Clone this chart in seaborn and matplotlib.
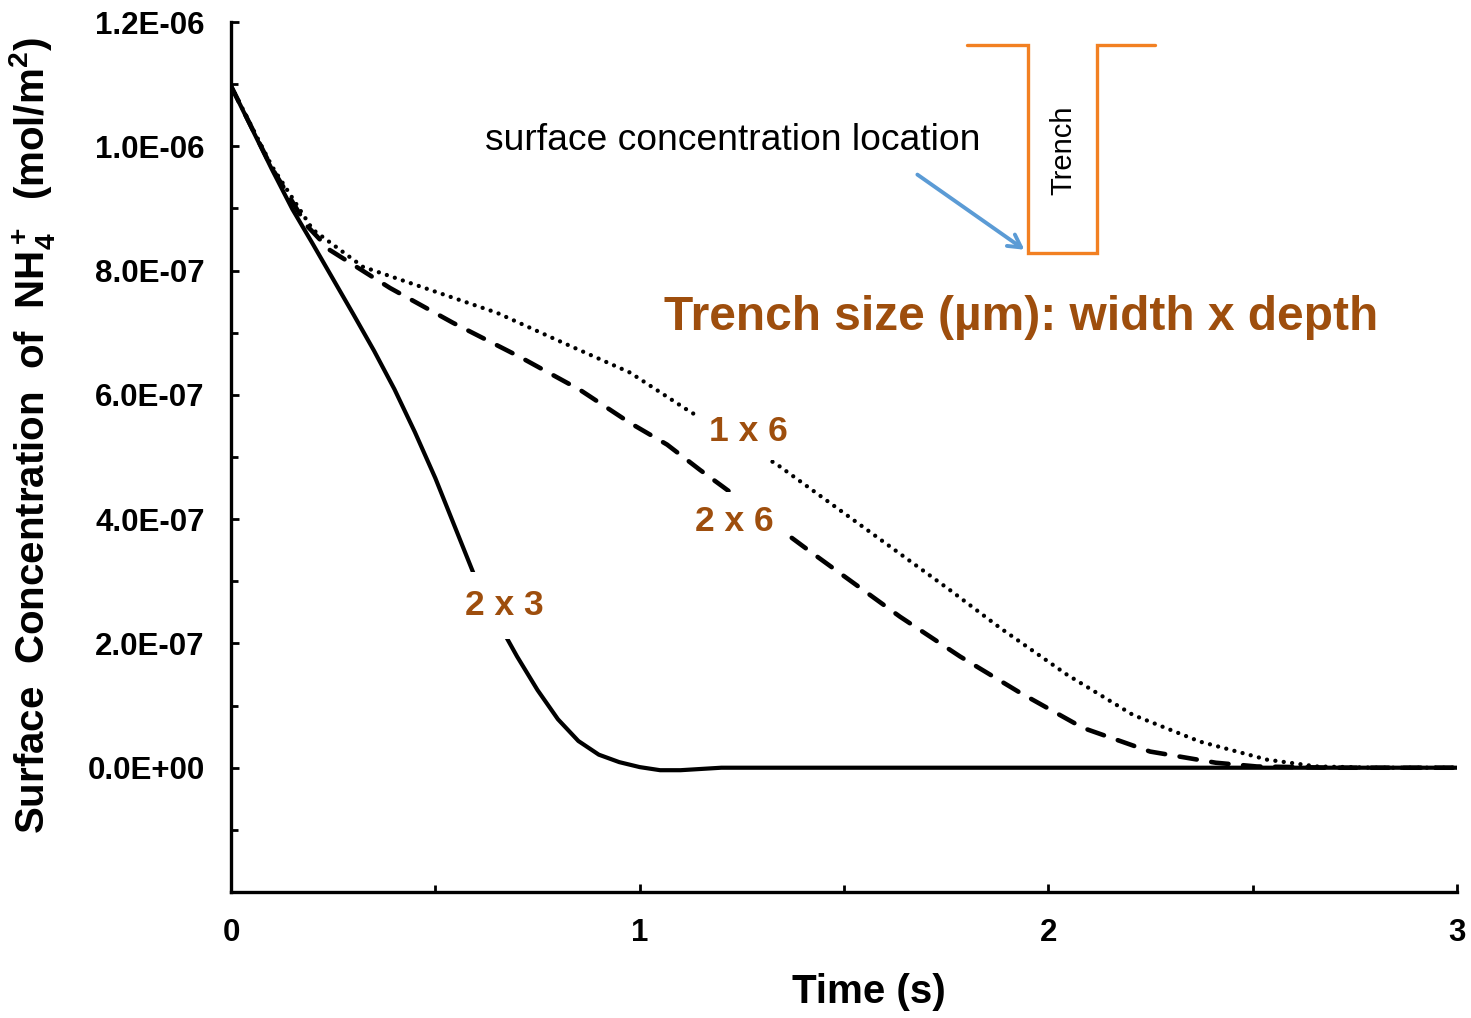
import numpy as np
import pandas as pd
import matplotlib
matplotlib.use("Agg")
import matplotlib.pyplot as plt
from matplotlib.ticker import MultipleLocator, FuncFormatter
import seaborn as sns

# ---------------- data ----------------
t_2x3 = [0.0, 0.05, 0.10, 0.15, 0.20, 0.25, 0.30, 0.35, 0.40, 0.45, 0.50, 0.55,
         0.60, 0.65, 0.70, 0.75, 0.80, 0.85, 0.90, 0.95, 1.00, 1.05, 1.10, 1.15,
         1.20, 1.50, 2.00, 2.50, 3.00]
c_2x3 = [10.97, 10.30, 9.63, 8.99, 8.43, 7.86, 7.29, 6.71, 6.09, 5.40, 4.66, 3.84,
         3.02, 2.38, 1.79, 1.25, 0.78, 0.43, 0.21, 0.09, 0.01, -0.04, -0.04, -0.02,
         0.0, 0.0, 0.0, 0.0, 0.0]

t_2x6 = [0.0, 0.10, 0.186, 0.242, 0.389, 0.543, 0.707, 0.854, 0.976, 1.067, 1.148,
         1.204, 1.417, 1.637, 1.784, 1.93, 2.085, 2.249, 2.41, 2.51, 2.70, 3.0]
c_2x6 = [10.97, 9.65, 8.72, 8.33, 7.72, 7.16, 6.61, 6.08, 5.55, 5.20, 4.79,
         4.52, 3.48, 2.43, 1.79, 1.21, 0.64, 0.26, 0.08, 0.02, 0.0, 0.0]

t_1x6 = [0.0, 0.10, 0.20, 0.323, 0.487, 0.651, 0.812, 0.976, 1.116, 1.336, 1.556,
         1.759, 1.882, 2.045, 2.207, 2.371, 2.535, 2.657, 2.80, 3.0]
c_1x6 = [10.97, 9.68, 8.66, 8.06, 7.69, 7.32, 6.84, 6.36, 5.76, 4.88, 3.83,
         2.86, 2.25, 1.50, 0.85, 0.42, 0.13, 0.02, 0.0, 0.0]

scale = 1e-7  # values above are in units of 1E-07 mol/m2

x_ticks = [0, 1, 2, 3]
y_ticks = [0.0, 2e-7, 4e-7, 6e-7, 8e-7, 1.0e-6, 1.2e-6]

# ---------------- styling ----------------
sns.set_style("ticks")
plt.rcParams['font.family'] = ['Liberation Sans', 'DejaVu Sans']
plt.rcParams['mathtext.fontset'] = 'custom'
plt.rcParams['mathtext.rm'] = 'Liberation Sans:bold'
plt.rcParams['mathtext.bf'] = 'Liberation Sans:bold'
plt.rcParams['mathtext.it'] = 'Liberation Sans:bold'
plt.rcParams['mathtext.default'] = 'rm'
for k in ['text.color', 'axes.labelcolor', 'xtick.color', 'ytick.color',
          'axes.edgecolor']:
    plt.rcParams[k] = 'black'

BROWN = '#9E4E0D'
ORANGE = '#F28022'
BLUE = '#5B9BD5'

fig = plt.figure(figsize=(14.71, 10.18), dpi=100)
ax = fig.add_axes([231/1471, 1-892/1018, (1457-231)/1471, (892-22)/1018])

df = pd.concat([
    pd.DataFrame({'t': t_2x3, 'c': np.array(c_2x3)*scale, 'size': '2 x 3'}),
    pd.DataFrame({'t': t_2x6, 'c': np.array(c_2x6)*scale, 'size': '2 x 6'}),
    pd.DataFrame({'t': t_1x6, 'c': np.array(c_1x6)*scale, 'size': '1 x 6'}),
])

sns.lineplot(data=df[df['size'] == '2 x 3'], x='t', y='c', ax=ax, color='black',
             lw=3.0, estimator=None, sort=False)
ax.lines[-1].set_solid_joinstyle('round')
sns.lineplot(data=df[df['size'] == '2 x 6'], x='t', y='c', ax=ax, color='black',
             lw=3.3, estimator=None, sort=False)
ax.lines[-1].set_dashes((3.8, 3.2))
ax.lines[-1].set_dash_capstyle('round')
sns.lineplot(data=df[df['size'] == '1 x 6'], x='t', y='c', ax=ax, color='black',
             lw=3.1, estimator=None, sort=False)
ax.lines[-1].set_dashes((0.01, 1.95))
ax.lines[-1].set_dash_capstyle('round')

ax.set_xlim(0, 3)
ax.set_ylim(-2e-7, 1.2e-6)
ax.set_xticks(x_ticks)
ax.xaxis.set_minor_locator(MultipleLocator(0.5))
ax.set_yticks(y_ticks)
ax.yaxis.set_minor_locator(MultipleLocator(1e-7))
ax.yaxis.set_major_formatter(FuncFormatter(lambda v, p: f"{v:.1E}"))
ax.xaxis.set_major_formatter(FuncFormatter(lambda v, p: f"{v:g}"))

for s in ['top', 'right']:
    ax.spines[s].set_visible(False)
for s in ['left', 'bottom']:
    ax.spines[s].set_linewidth(2.4)
    ax.spines[s].set_color('black')

ax.tick_params(which='major', direction='in', length=6, width=2, pad=19,
               labelsize=22.5, colors='black')
ax.tick_params(which='minor', direction='in', length=5, width=2)
for lab in ax.get_xticklabels() + ax.get_yticklabels():
    lab.set_fontweight('bold')

ax.set_xlabel('Time (s)', fontsize=29, fontweight='bold', va='top')
ax.xaxis.set_label_coords(0.52, -0.093)
ax.set_ylabel(r'Surface  Concentration  of  NH$_4^+$  (mol/m$^2$)', fontsize=29,
              fontweight='bold')
ax.yaxis.set_label_coords(-0.142, 0.524)

# curve labels with white background (hide the curve underneath)
bb = dict(facecolor='white', edgecolor='none', pad=9)
ax.text(1.265, 5.41e-7, '1 x 6', color=BROWN, fontsize=25.5, fontweight='bold',
        ha='center', va='center', bbox=bb, zorder=5)
ax.text(1.231, 3.97e-7, '2 x 6', color=BROWN, fontsize=25.5, fontweight='bold',
        ha='center', va='center', bbox=bb, zorder=5)
ax.text(0.670, 2.61e-7, '2 x 3', color=BROWN, fontsize=25.5, fontweight='bold',
        ha='center', va='center',
        bbox=dict(facecolor='white', edgecolor='none', pad=12), zorder=5)

ax.text(1.933, 7.24e-7, 'Trench size (µm): width x depth', color=BROWN,
        fontsize=34.5, fontweight='bold', ha='center', va='center')

ax.text(1.228, 1.009e-6, 'surface concentration location', color='black',
        fontsize=26.8, ha='center', va='center')

# trench sketch
tx = [1.801, 1.950, 1.950, 2.119, 2.119, 2.261]
ty = [1.1633e-6, 1.1633e-6, 8.286e-7, 8.286e-7, 1.1633e-6, 1.1633e-6]
ax.plot(tx, ty, color=ORANGE, lw=2.4, solid_joinstyle='miter', zorder=4)
ax.text(2.036, 9.94e-7, 'Trench', rotation=90, fontsize=21, color='black',
        ha='center', va='center')
ax.annotate('', xy=(1.947, 8.31e-7), xytext=(1.674, 9.57e-7),
            arrowprops=dict(arrowstyle='->,head_length=0.9,head_width=0.5',
                            color=BLUE, lw=2.8))

fig.savefig('out.png', dpi=100)
